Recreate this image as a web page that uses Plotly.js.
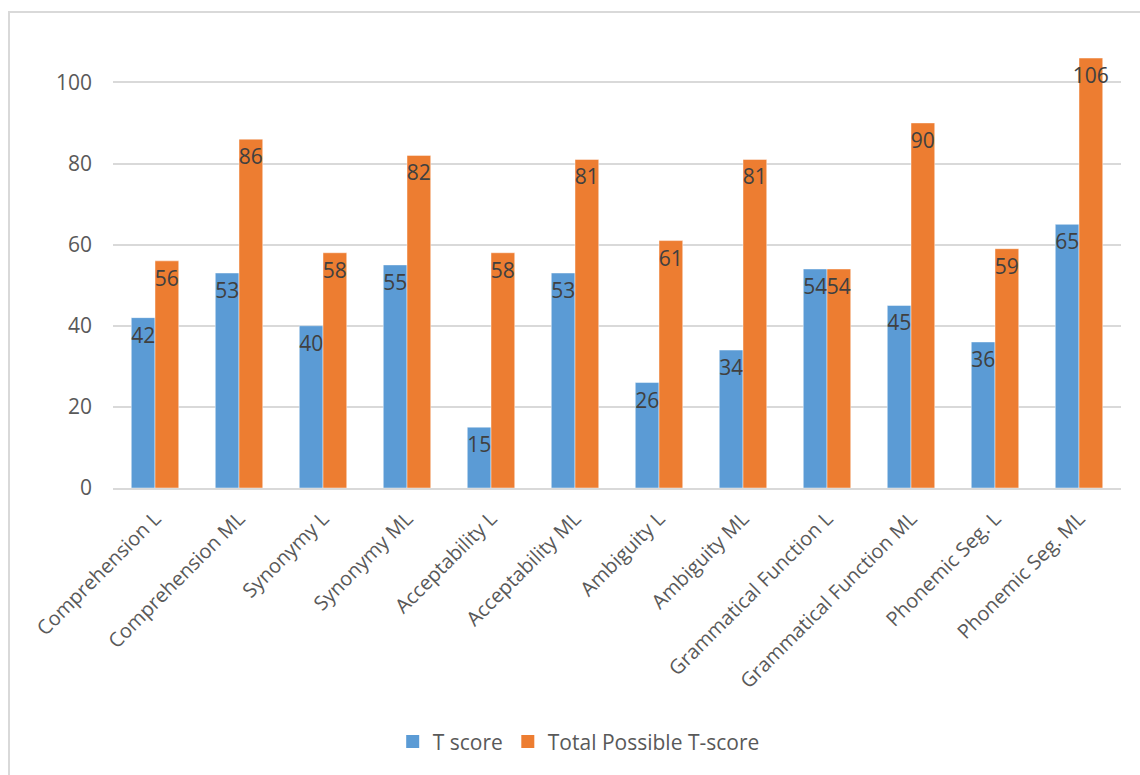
<!DOCTYPE html>
<html>
<head>
<meta charset="utf-8">
<script src="https://cdn.plot.ly/plotly-3.0.1.min.js"></script>
<style>
  html, body { margin: 0; padding: 0; background: #ffffff; }
  #wrap { position: relative; width: 1140px; height: 775px; overflow: hidden; }
  #chart { position: absolute; left: 0; top: 0; width: 1140px; height: 775px; }
  #frame { position: absolute; left: 8px; top: 11px; width: 1200px; height: 900px;
           border-left: 2px solid #d9d9d9; border-top: 2px solid #d9d9d9; pointer-events: none; }
</style>
</head>
<body>
<div id="wrap">
  <div id="chart"></div>
  <div id="frame"></div>
</div>
<script>
// Subtest categories
const categories = [
  "Comprehension L", "Comprehension ML", "Synonymy L", "Synonymy ML",
  "Acceptability L", "Acceptability ML", "Ambiguity L", "Ambiguity ML",
  "Grammatical Function L", "Grammatical Function ML", "Phonemic Seg. L", "Phonemic Seg. ML"
];
// Obtained T scores
const tScore = [42, 53, 40, 55, 15, 53, 26, 34, 54, 45, 36, 65];
// Maximum attainable T scores
const totalPossible = [56, 86, 58, 82, 58, 81, 61, 81, 54, 90, 59, 106];
// Value axis ticks
const yTicks = [0, 20, 40, 60, 80, 100];
// Series names and colours
const seriesNames = ["T score", "Total Possible T-score"];
const seriesColors = ["#5B9BD5", "#ED7D31"];

const FONT = "Open Sans, Lato, sans-serif";

function barTrace(i, values) {
  return {
    type: "bar", name: seriesNames[i], x: categories, y: values,
    text: values.map(String),
    textposition: "inside",
    insidetextanchor: "end",
    textangle: 0,
    constraintext: "none",
    textfont: { family: FONT, size: 21, color: "#404040" },
    marker: { color: seriesColors[i], line: { color: "rgba(255,255,255,0.45)", width: 1 } },
    showlegend: false
  };
}

// Square swatches for the legend
function legendTrace(i) {
  return {
    type: "scatter", mode: "markers", name: seriesNames[i],
    x: [null], y: [null],
    marker: { symbol: "square", size: 13, color: seriesColors[i] },
    showlegend: true, hoverinfo: "skip"
  };
}

const traces = [
  barTrace(0, tScore),
  barTrace(1, totalPossible),
  legendTrace(0),
  legendTrace(1)
];

const layout = {
  width: 1140, height: 775,
  margin: { l: 113, r: 19, t: 54, b: 287, pad: 0 },
  paper_bgcolor: "#ffffff", plot_bgcolor: "#ffffff",
  font: { family: FONT, color: "#595959", size: 20 },
  barmode: "group",
  bargap: 0.435, bargroupgap: 0,
  showlegend: true,
  legend: {
    orientation: "h", x: 0.462, xanchor: "center", y: -0.585, yanchor: "middle",
    font: { family: FONT, size: 21, color: "#595959" },
    itemwidth: 30, itemsizing: "trace", traceorder: "normal"
  },
  xaxis: {
    type: "category", automargin: false,
    tickangle: -45, tickfont: { family: FONT, size: 20, color: "#595959" },
    showline: true, linecolor: "#d9d9d9", linewidth: 2,
    ticks: "", showgrid: false, zeroline: false, ticklabelstandoff: 9
  },
  yaxis: {
    range: [0, 107], automargin: false,
    tickvals: yTicks, ticktext: yTicks.map(String),
    tickfont: { family: FONT, size: 21, color: "#595959" },
    showgrid: true, gridcolor: "#d9d9d9", gridwidth: 2,
    zeroline: false, showline: false, ticks: "", ticklabelstandoff: 20
  }
};

Plotly.newPlot("chart", traces, layout, { displayModeBar: false, staticPlot: true });
</script>
</body>
</html>
